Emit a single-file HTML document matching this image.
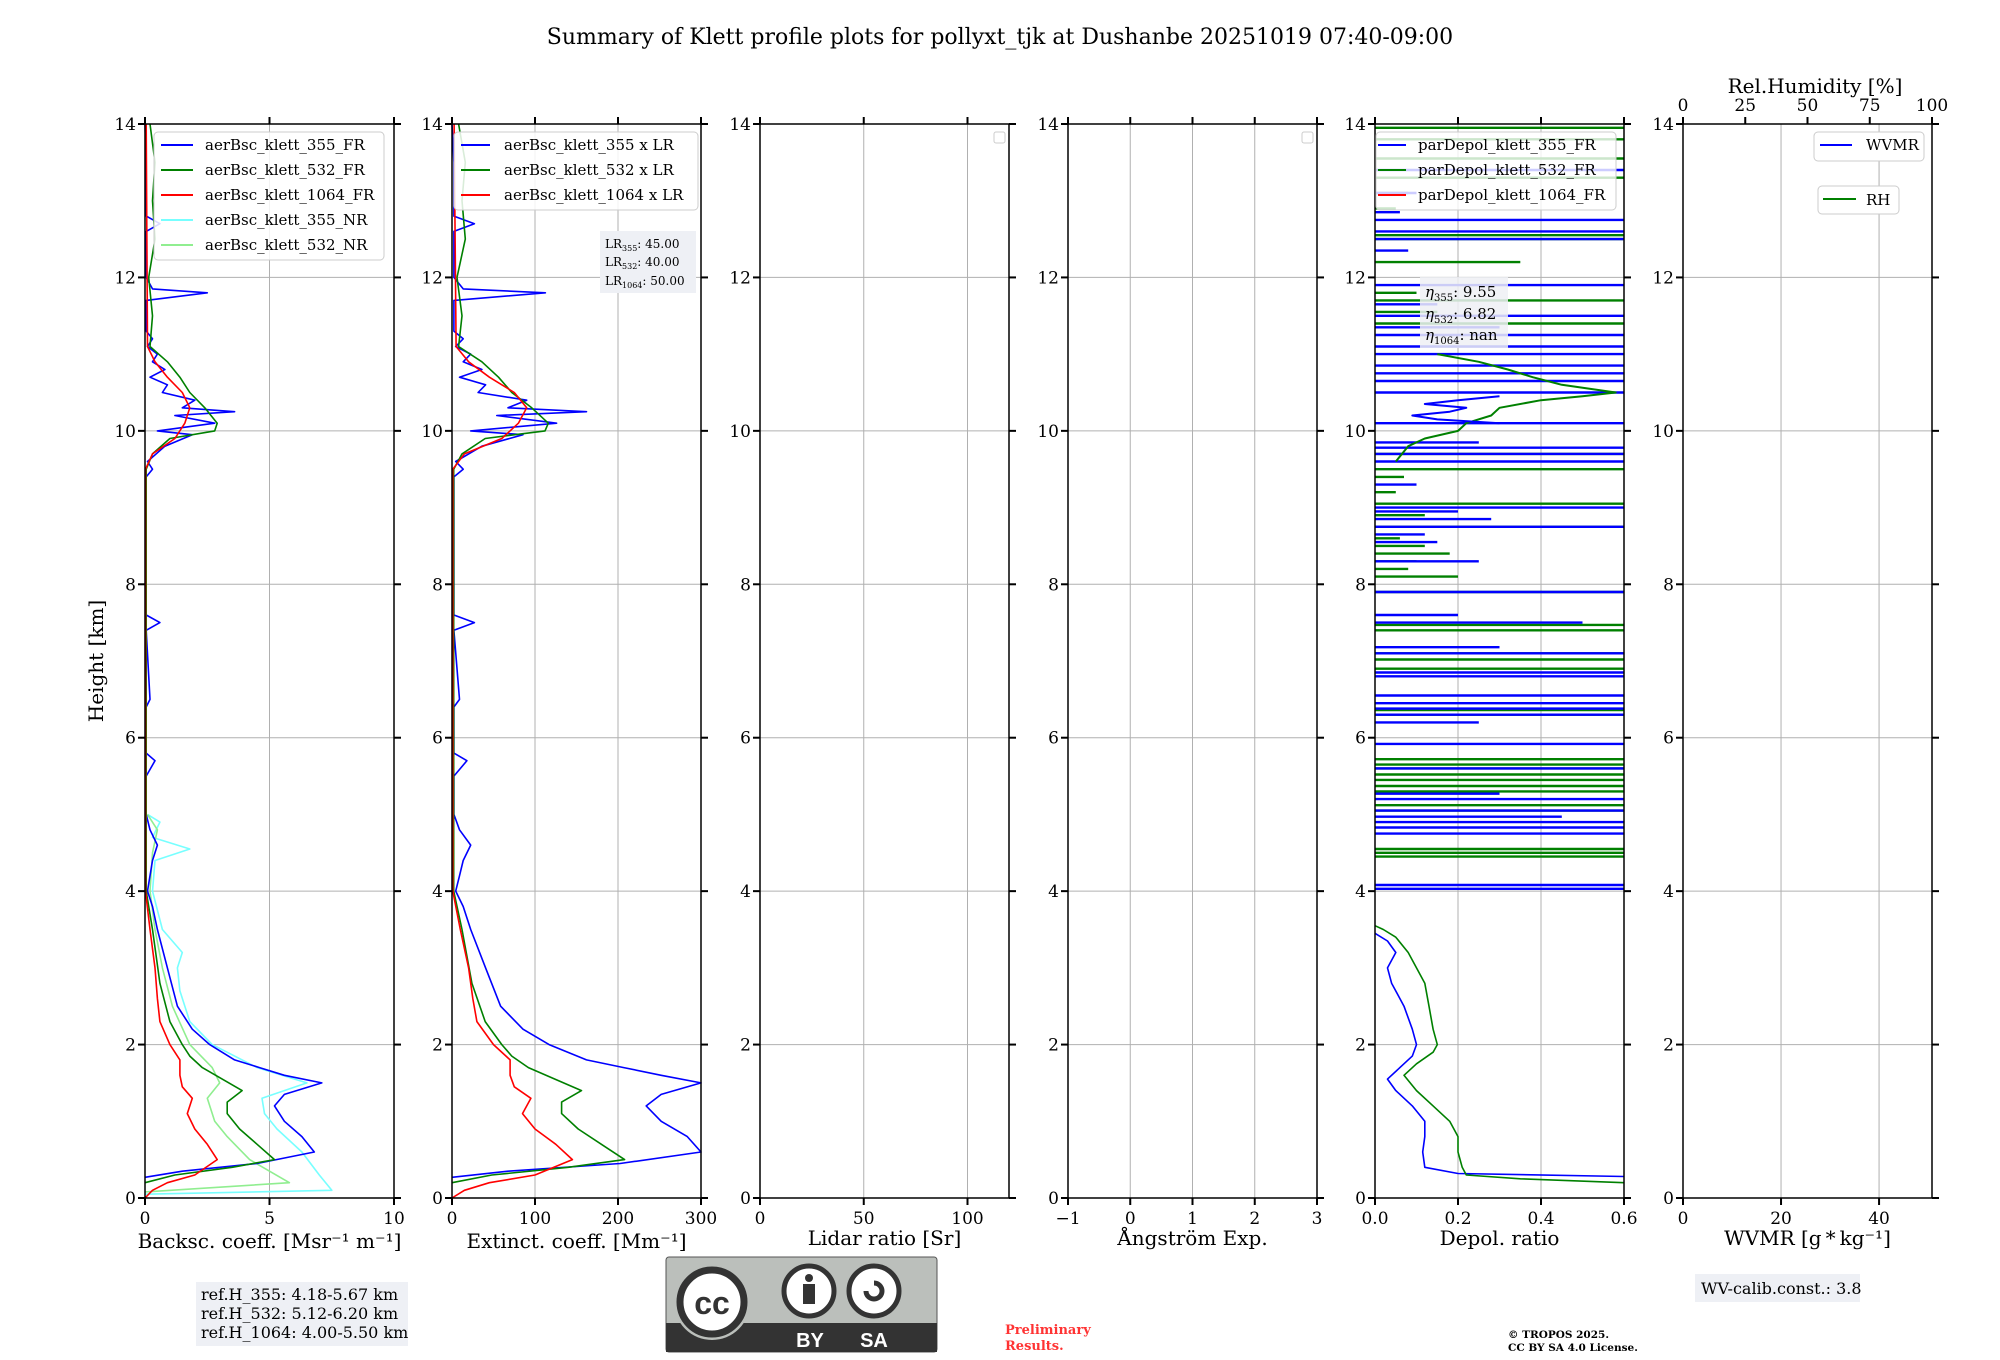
<!DOCTYPE html>
<html><head><meta charset="utf-8"><style>
html,body{margin:0;padding:0;background:#fff;}
svg{display:block;font-family:"DejaVu Serif","Liberation Serif",serif;}
</style></head><body>
<svg id="fig" width="2000" height="1360" viewBox="0 0 2000 1360" xmlns="http://www.w3.org/2000/svg">
<rect width="2000" height="1360" fill="#fff"/>
<text x="1000" y="44" font-size="22" text-anchor="middle">Summary of Klett profile plots for pollyxt_tjk at Dushanbe 20251019 07:40-09:00</text>
<text transform="translate(103,661) rotate(-90)" font-size="20" text-anchor="middle">Height [km]</text>
<g id="layer"></g>
</svg>
<script>
// ---- data ----
const heightTicks = [0,2,4,6,8,10,12,14];
const bsc355H = [0.27,0.35,0.45,0.6,0.8,1.0,1.2,1.35,1.5,1.6,1.7,1.8,2.0,2.2,2.5,3.0,3.5,3.8,4.0,4.2,4.4,4.6,4.8,5.0,5.5,5.7,5.8,6.4,6.5,7.4,7.5,7.6,9.4,9.5,9.6,9.8,9.95,10.0,10.1,10.2,10.25,10.3,10.4,10.5,10.6,10.7,10.8,10.9,11.0,11.1,11.2,11.3,11.7,11.8,11.85,12.0,12.6,12.7,12.8,13.5,14.0];
const bsc355V = [0,1.5,4.5,6.8,6.3,5.6,5.2,5.6,7.1,5.6,4.6,3.6,2.6,1.9,1.3,0.9,0.5,0.3,0.1,0.2,0.3,0.5,0.2,0.05,0.05,0.4,0.05,0.05,0.2,0.05,0.6,0.05,0.05,0.3,0.1,0.8,1.9,0.5,2.8,1.2,3.6,1.5,2.0,0.7,0.9,0.2,0.8,0.3,0.5,0.1,0.3,0.05,0.05,2.5,0.3,0.05,0.05,0.6,0.05,0.05,0];
const bsc532H = [0.2,0.3,0.4,0.5,0.7,0.9,1.1,1.25,1.4,1.55,1.7,1.85,2.0,2.3,2.8,3.5,4.0,5.0,9.5,9.7,9.9,10.0,10.1,10.3,10.5,10.7,10.9,11.1,11.5,12.0,12.5,13.0,13.5,14.0];
const bsc532V = [0,1.2,3.5,5.2,4.5,3.8,3.3,3.3,3.9,3.1,2.3,1.8,1.5,1.0,0.6,0.3,0.05,0.05,0.05,0.3,1.0,2.8,2.9,2.4,1.8,1.4,0.9,0.2,0.3,0.15,0.4,0.3,0.4,0.2];
const bsc1064H = [0,0.1,0.2,0.3,0.5,0.7,0.9,1.1,1.3,1.45,1.6,1.8,2.0,2.3,2.6,3.0,3.5,4.0,9.5,9.7,9.9,10.1,10.3,10.5,10.7,10.9,11.1,14.0];
const bsc1064V = [0,0.3,0.9,2.0,2.9,2.5,2.0,1.7,1.9,1.5,1.4,1.4,1.0,0.6,0.5,0.4,0.2,0.02,0.02,0.3,1.2,1.6,1.8,1.5,0.9,0.4,0.1,0.05];
const bsc355NRH = [0.05,0.1,0.3,0.6,0.9,1.1,1.3,1.5,1.7,2.0,2.3,2.7,3.0,3.2,3.5,4.0,4.4,4.55,4.7,4.9,5.0];
const bsc355NRV = [0,7.5,7.0,6.3,5.3,4.8,4.7,6.5,4.5,2.7,1.8,1.4,1.3,1.5,0.7,0.3,0.4,1.8,0.3,0.6,0.1];
const bsc532NRH = [0.08,0.2,0.5,0.8,1.0,1.3,1.5,1.7,2.0,2.5,3.0,3.5,4.0,4.5,4.8,5.0];
const bsc532NRV = [0,5.8,4.2,3.3,2.8,2.5,3.0,2.7,1.8,1.1,0.7,0.4,0.2,0.3,0.5,0.1];
const lidarRatios = [45,40,50];
const dep355H = [0.28,0.32,0.4,0.6,0.8,1.0,1.2,1.4,1.55,1.7,1.85,2.0,2.2,2.5,2.8,3.0,3.2,3.35,3.45];
const dep355V = [0.6,0.2,0.12,0.115,0.12,0.12,0.09,0.05,0.03,0.06,0.09,0.1,0.09,0.07,0.04,0.03,0.05,0.03,0.0];
const dep532H = [0.2,0.25,0.3,0.4,0.6,0.8,1.0,1.2,1.4,1.6,1.75,1.9,2.0,2.2,2.5,2.8,3.0,3.2,3.4,3.5,3.55];
const dep532V = [0.6,0.35,0.22,0.21,0.2,0.2,0.18,0.14,0.1,0.07,0.1,0.14,0.15,0.14,0.13,0.12,0.1,0.08,0.05,0.02,0.0];
const depBlueSpikeH = [4.03,4.08,4.75,4.83,4.9,4.97,5.05,5.2,5.27,5.6,5.92,6.2,6.3,6.38,6.45,6.55,6.8,6.85,7.1,7.18,7.5,7.6,7.9,8.3,8.75,8.85,9.0,9.6,9.7,9.78,10.1,10.5,10.75,10.85,11.0,11.25,11.5,11.9,12.5,12.6,12.75,13.4,8.55,8.65,8.95,9.3,9.85,10.65,11.1,11.35,11.65,12.35,12.85,13.1];
const depBlueSpikeV = [0.6,0.6,0.6,0.6,0.6,0.45,0.6,0.6,0.3,0.6,0.6,0.25,0.6,0.6,0.6,0.6,0.6,0.6,0.6,0.3,0.5,0.2,0.6,0.25,0.6,0.28,0.6,0.6,0.6,0.6,0.6,0.6,0.6,0.6,0.6,0.6,0.6,0.6,0.6,0.6,0.6,0.6,0.15,0.12,0.2,0.1,0.25,0.6,0.6,0.3,0.15,0.08,0.06,0.1];
const depGreenSpikeH = [4.45,4.5,4.55,5.05,5.12,5.3,5.37,5.45,5.52,5.6,5.65,5.72,6.3,6.36,6.9,7.02,7.1,7.4,7.47,7.9,8.1,8.4,8.5,8.75,9.05,9.5,9.7,11.4,11.7,12.2,12.5,12.55,13.3,13.55,13.8,13.95,8.2,8.3,8.6,8.9,9.2,9.4,11.55,11.8,12.9,13.1];
const depGreenSpikeV = [0.6,0.6,0.6,0.6,0.6,0.6,0.6,0.6,0.6,0.6,0.6,0.6,0.6,0.6,0.6,0.6,0.6,0.6,0.6,0.6,0.2,0.18,0.12,0.6,0.6,0.6,0.6,0.6,0.6,0.35,0.6,0.6,0.6,0.6,0.6,0.6,0.08,0.1,0.06,0.12,0.05,0.07,0.15,0.1,0.05,0.08];
const depGreenCloudH = [9.6,9.8,9.9,10.0,10.1,10.2,10.3,10.4,10.45,10.5,10.6,10.7,10.8,10.9,11.0];
const depGreenCloudV = [0.05,0.08,0.12,0.2,0.22,0.28,0.3,0.4,0.5,0.58,0.45,0.38,0.32,0.25,0.15];
const depBlueCloudH = [10.1,10.15,10.2,10.25,10.3,10.35,10.4,10.45];
const depBlueCloudV = [0.3,0.15,0.09,0.18,0.22,0.12,0.2,0.3];

// ---- layout ----
const NS = "http://www.w3.org/2000/svg";
const layer = document.getElementById('layer');
const TOP = 124, BOT = 1198, W = 249;
function yS(h){ return BOT - h/14*(BOT-TOP); }
function mk(tag, attrs, parent){
  const e = document.createElementNS(NS, tag);
  for (const k in attrs) e.setAttribute(k, attrs[k]);
  (parent||layer).appendChild(e);
  return e;
}
const panels = [
  {name:'backscatter', x0:145, min:0, max:10, ticks:[0,5,10], labels:['0','5','10'], title:'Backsc. coeff. [Msr\u207B\u00B9 m\u207B\u00B9]'},
  {name:'extinction', x0:452, min:0, max:300, ticks:[0,100,200,300], labels:['0','100','200','300'], title:'Extinct. coeff. [Mm\u207B\u00B9]'},
  {name:'lidar-ratio', x0:760, min:0, max:120, ticks:[0,50,100], labels:['0','50','100'], title:'Lidar ratio [Sr]'},
  {name:'angstrom', x0:1068, min:-1, max:3, ticks:[-1,0,1,2,3], labels:['\u22121','0','1','2','3'], title:'\u00C5ngstr\u00F6m Exp.'},
  {name:'depol', x0:1375, min:0, max:0.6, ticks:[0,0.2,0.4,0.6], labels:['0.0','0.2','0.4','0.6'], title:'Depol. ratio'},
  {name:'wvmr', x0:1683, min:0, max:50.8, ticks:[0,20,40], labels:['0','20','40'], title:'WVMR [g\u2009*\u2009kg\u207B\u00B9]'}
];
function xS(p, v){ return p.x0 + (v-p.min)/(p.max-p.min)*W; }

panels.forEach((p,i)=>{
  const g = mk('g', {});
  
  
  p.ticks.forEach(t=>{
    const X = xS(p,t);
    const gl = mk('line', {x1:X, x2:X, y1:TOP, y2:BOT, stroke:'#b0b0b0', 'stroke-width':1}, g);
    
    
  });
  heightTicks.forEach(h=>{
    const Y = yS(h);
    const gl = mk('line', {x1:p.x0, x2:p.x0+W, y1:Y, y2:Y, stroke:'#b0b0b0', 'stroke-width':1}, g);
    
    
  });
  p.g = g;
});

function line(p, H, V, color, name, width, opacity){
  const pts = H.map((h,k)=>{
    let X = xS(p, V[k]);
    X = Math.max(p.x0, Math.min(p.x0+W, X));
    return X.toFixed(1)+','+yS(h).toFixed(1);
  }).join(' ');
  const e = mk('polyline', {points:pts, fill:'none', stroke:color, 'stroke-width':width||1.6, 'stroke-linejoin':'round', opacity:opacity||1}, p.g);
  
  
}
const P1 = panels[0], P2 = panels[1], P5 = panels[4];
line(P1, bsc355NRH, bsc355NRV, '#7ff', 'bsc-355-nr-line');
line(P1, bsc532NRH, bsc532NRV, '#90ee90', 'bsc-532-nr-line');
line(P1, bsc355H, bsc355V, '#00f', 'bsc-355-fr-line');
line(P1, bsc532H, bsc532V, 'green', 'bsc-532-fr-line');
line(P1, bsc1064H, bsc1064V, 'red', 'bsc-1064-fr-line');
line(P2, bsc355H, bsc355V.map(v=>v*lidarRatios[0]), '#00f', 'ext-355-line');
line(P2, bsc532H, bsc532V.map(v=>v*lidarRatios[1]), 'green', 'ext-532-line');
line(P2, bsc1064H, bsc1064V.map(v=>v*lidarRatios[2]), 'red', 'ext-1064-line');
function spikes(p, H, V, color, name){
  let d = '';
  H.forEach((h,k)=>{ d += 'M'+xS(p,0).toFixed(1)+','+yS(h).toFixed(1)+'L'+xS(p,V[k]).toFixed(1)+','+yS(h).toFixed(1); });
  const e = mk('path', {d:d, stroke:color, 'stroke-width':2.4, fill:'none'}, p.g);
  
  
}
spikes(P5, depGreenSpikeH, depGreenSpikeV, 'green', 'depol-532-noise');
spikes(P5, depBlueSpikeH, depBlueSpikeV, '#00f', 'depol-355-noise');
line(P5, depGreenCloudH, depGreenCloudV, 'green', 'depol-532-cloud-line', 2);
line(P5, depBlueCloudH, depBlueCloudV, '#00f', 'depol-355-cloud-line', 2);
line(P5, dep355H, dep355V, '#00f', 'depol-355-line');
line(P5, dep532H, dep532V, 'green', 'depol-532-line');

panels.forEach((p,i)=>{
  const g = p.g;
  const fr = mk('rect', {x:p.x0, y:TOP, width:W, height:BOT-TOP, fill:'none', stroke:'#000', 'stroke-width':1.5}, g);
  
  
  heightTicks.forEach(h=>{
    const Y = yS(h);
    mk('line', {x1:p.x0-7, x2:p.x0, y1:Y, y2:Y, stroke:'#000', 'stroke-width':2}, g);
    mk('line', {x1:p.x0+W, x2:p.x0+W+7, y1:Y, y2:Y, stroke:'#000', 'stroke-width':2}, g);
    const t = mk('text', {x:p.x0-9, y:Y+6, 'font-size':17, 'text-anchor':'end'}, g);
    t.textContent = String(h);
    
    
  });
  p.ticks.forEach((tv,k)=>{
    const X = xS(p,tv);
    mk('line', {x1:X, x2:X, y1:BOT, y2:BOT+7, stroke:'#000', 'stroke-width':2}, g);
    if (i<5) mk('line', {x1:X, x2:X, y1:TOP-7, y2:TOP, stroke:'#000', 'stroke-width':2}, g);
    const t = mk('text', {x:X, y:BOT+26, 'font-size':17, 'text-anchor':'middle'}, g);
    t.textContent = p.labels[k];
    
    
  });
  const at = mk('text', {x:p.x0+W/2, y:(i<2?1248:1245), 'font-size':20, 'text-anchor':'middle'}, g);
  at.textContent = p.title;
  
  
});
const rhTicks = [0,25,50,75,100];
rhTicks.forEach(v=>{
  const X = 1683 + v/100*W;
  mk('line', {x1:X, x2:X, y1:TOP-7, y2:TOP, stroke:'#000', 'stroke-width':2});
  const t = mk('text', {x:X, y:111, 'font-size':17, 'text-anchor':'middle'});
  t.textContent = String(v);
  
  
});
const rht = mk('text', {x:1815, y:93, 'font-size':20, 'text-anchor':'middle'});
rht.textContent = 'Rel.Humidity [%]';


</script>

<svg width="2000" height="1360" viewBox="0 0 2000 1360" style="position:absolute;left:0;top:0;font-family:'DejaVu Serif','Liberation Serif',serif" xmlns="http://www.w3.org/2000/svg">
<g font-size="15">
<rect x="154" y="132" width="230" height="128" rx="4" fill="#fff" fill-opacity="0.85" stroke="#ccc"/>
<line x1="161" x2="193" y1="145" y2="145" stroke="#00f" stroke-width="2"/><text x="205" y="150">aerBsc_klett_355_FR</text>
<line x1="161" x2="193" y1="170" y2="170" stroke="green" stroke-width="2"/><text x="205" y="175">aerBsc_klett_532_FR</text>
<line x1="161" x2="193" y1="195" y2="195" stroke="red" stroke-width="2"/><text x="205" y="200">aerBsc_klett_1064_FR</text>
<line x1="161" x2="193" y1="220" y2="220" stroke="#7ff" stroke-width="2"/><text x="205" y="225">aerBsc_klett_355_NR</text>
<line x1="161" x2="193" y1="245" y2="245" stroke="#90ee90" stroke-width="2"/><text x="205" y="250">aerBsc_klett_532_NR</text>
</g>
<g font-size="15">
<rect x="454" y="132" width="244" height="78" rx="4" fill="#fff" fill-opacity="0.85" stroke="#ccc"/>
<line x1="461" x2="490" y1="145" y2="145" stroke="#00f" stroke-width="2"/><text x="504" y="150">aerBsc_klett_355 x LR</text>
<line x1="461" x2="490" y1="170" y2="170" stroke="green" stroke-width="2"/><text x="504" y="175">aerBsc_klett_532 x LR</text>
<line x1="461" x2="490" y1="195" y2="195" stroke="red" stroke-width="2"/><text x="504" y="200">aerBsc_klett_1064 x LR</text>
</g>
<g font-size="12">
<rect x="600" y="231" width="96" height="62" fill="#eef0f5"/>
<text x="605" y="248">LR<tspan font-size="8" dy="3">355</tspan><tspan dy="-3">: 45.00</tspan></text>
<text x="605" y="266">LR<tspan font-size="8" dy="3">532</tspan><tspan dy="-3">: 40.00</tspan></text>
<text x="605" y="285">LR<tspan font-size="8" dy="3">1064</tspan><tspan dy="-3">: 50.00</tspan></text>
</g>
<rect x="994" y="132" width="11" height="11" rx="2" fill="#fff" stroke="#ccc"/>
<rect x="1302" y="132" width="11" height="11" rx="2" fill="#fff" stroke="#ccc"/>
<g font-size="15">
<rect x="1376" y="132" width="240" height="78" rx="4" fill="#fff" fill-opacity="0.8" stroke="#ccc"/>
<line x1="1378" x2="1406" y1="145" y2="145" stroke="#00f" stroke-width="2"/><text x="1418" y="150">parDepol_klett_355_FR</text>
<line x1="1378" x2="1406" y1="170" y2="170" stroke="green" stroke-width="2"/><text x="1418" y="175">parDepol_klett_532_FR</text>
<line x1="1378" x2="1406" y1="195" y2="195" stroke="red" stroke-width="2"/><text x="1418" y="200">parDepol_klett_1064_FR</text>
</g>
<g font-size="15">
<rect x="1420" y="277" width="88" height="71" fill="#eef0f5" fill-opacity="0.85"/>
<text x="1425" y="297"><tspan font-style="italic">η</tspan><tspan font-size="10" dy="4">355</tspan><tspan dy="-4">: 9.55</tspan></text>
<text x="1425" y="319"><tspan font-style="italic">η</tspan><tspan font-size="10" dy="4">532</tspan><tspan dy="-4">: 6.82</tspan></text>
<text x="1425" y="340"><tspan font-style="italic">η</tspan><tspan font-size="10" dy="4">1064</tspan><tspan dy="-4">: nan</tspan></text>
</g>
<g font-size="15">
<rect x="1814" y="132" width="110" height="29" rx="4" fill="#fff" stroke="#ccc"/>
<line x1="1820" x2="1852" y1="145" y2="145" stroke="#00f" stroke-width="2"/><text x="1866" y="150">WVMR</text>
</g>
<g font-size="15">
<rect x="1818" y="186" width="81" height="28" rx="4" fill="#fff" stroke="#ccc"/>
<line x1="1823" x2="1856" y1="199" y2="199" stroke="green" stroke-width="2"/><text x="1866" y="205">RH</text>
</g>
<g font-size="16">
<rect x="196" y="1282" width="212" height="64" fill="#eef0f5"/>
<text x="201" y="1300">ref.H_355: 4.18-5.67 km</text>
<text x="201" y="1319">ref.H_532: 5.12-6.20 km</text>
<text x="201" y="1338">ref.H_1064: 4.00-5.50 km</text>
</g>
<g>
<rect x="666" y="1257" width="271" height="95" rx="3" fill="#bbbfbb" stroke="#555"/>
<rect x="666" y="1323" width="271" height="29" fill="#333"/>
<circle cx="712" cy="1302" r="38" fill="#bbbfbb"/>
<circle cx="712" cy="1302" r="32" fill="#fff" stroke="#333" stroke-width="7"/>
<text x="712" y="1314" font-family="'Liberation Sans',sans-serif" font-weight="bold" font-size="32" text-anchor="middle" fill="#333">cc</text>
<circle cx="809" cy="1291" r="25" fill="#fff" stroke="#333" stroke-width="5"/>
<circle cx="809" cy="1278" r="4" fill="#333"/>
<rect x="803" y="1284" width="12" height="20" fill="#333"/>
<circle cx="874" cy="1291" r="25" fill="#fff" stroke="#333" stroke-width="5"/>
<path d="M866,1291 a8,8 0 1,0 8,-8" fill="none" stroke="#333" stroke-width="5"/>
<text x="810" y="1347" font-family="'Liberation Sans',sans-serif" font-weight="bold" font-size="20" text-anchor="middle" fill="#fff">BY</text>
<text x="874" y="1347" font-family="'Liberation Sans',sans-serif" font-weight="bold" font-size="20" text-anchor="middle" fill="#fff">SA</text>
</g>
<g font-size="13" font-weight="bold" fill="#ff3333">
<text x="1005" y="1334">Preliminary</text>
<text x="1005" y="1350">Results.</text>
</g>
<g font-size="10.5" font-weight="bold">
<text x="1508" y="1338">© TROPOS 2025.</text>
<text x="1508" y="1351">CC BY SA 4.0 License.</text>
</g>
<g font-size="16">
<rect x="1695" y="1274" width="165" height="28" fill="#eef0f5"/>
<text x="1701" y="1294">WV-calib.const.: 3.8</text>
</g>
</svg>
</body></html>
